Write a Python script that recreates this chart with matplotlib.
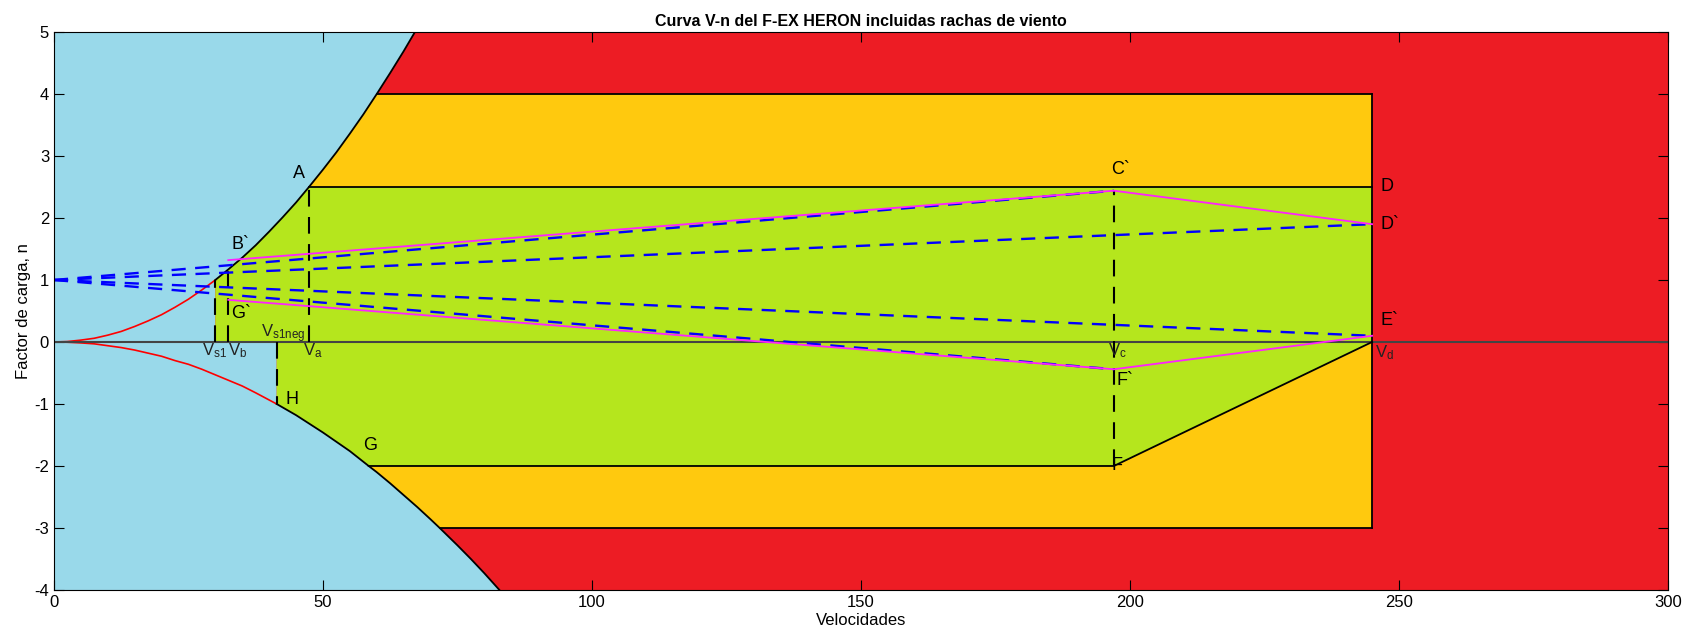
import numpy as np
import matplotlib.pyplot as plt

plt.rcParams['font.family'] = ['Liberation Sans', 'DejaVu Sans']
plt.rcParams['axes.unicode_minus'] = False
plt.rcParams['mathtext.fontset'] = 'custom'
plt.rcParams['mathtext.rm'] = 'Liberation Sans'

# curva de entrada en perdida positiva (V, n)
v_pos = [0, 2.5, 5, 7.5, 10, 12.5, 15, 17.5, 20, 22.5, 25, 27.5, 30, 32.4, 35, 37.5, 40, 42.5,
         45, 47.4, 50, 52.5, 55, 57.5, 60, 62.5, 65, 67.1]
n_pos = [0, 0.007, 0.03, 0.06, 0.11, 0.17, 0.25, 0.34, 0.44, 0.56, 0.69, 0.84, 1.0, 1.17, 1.36,
         1.56, 1.78, 2.01, 2.25, 2.5, 2.78, 3.06, 3.36, 3.67, 4.0, 4.34, 4.69, 5.0]
# curva negativa
v_neg = [0, 2.5, 5, 7.5, 10, 12.5, 15, 17.5, 20, 22.5, 25, 27.5, 30, 32.5, 35, 37.5, 41.4, 45,
         47.5, 50, 52.5, 55, 58.5, 60, 62.5, 65, 67.5, 70, 71.7, 75, 77.5, 80, 82.8]
n_neg = [0, -0.004, -0.015, -0.03, -0.06, -0.09, -0.13, -0.18, -0.23, -0.30, -0.36, -0.44, -0.53,
         -0.62, -0.71, -0.82, -1.0, -1.18, -1.32, -1.46, -1.61, -1.76, -2.0, -2.1, -2.28, -2.47,
         -2.66, -2.86, -3.0, -3.28, -3.5, -3.73, -4.0]

Vs1, Vb, Vs1neg, Va, Vc, Vd = 30, 32.4, 41.4, 47.4, 197, 245
n_max, n_min = 2.5, -2.0
n_ult_pos, n_ult_neg = 4.0, -3.0
V_ult_pos, V_ult_neg = 60, 71.7   # corte de la curva con n=4 y n=-3
VG = 58.5

# rachas
gust_V = [0, Vc, Vd]
gust_up_out = [1, 2.44]
gust_up_in = [1, 1.90]
gust_dn_in = [1, 0.10]
gust_dn_out = [1, -0.44]
env_up_V = [Vb, Vc, Vd]
env_up_n = [1.32, 2.44, 1.90]
env_dn_V = [Vb, Vc, Vd]
env_dn_n = [0.68, -0.44, 0.10]

c_azul = '#99D9EA'
c_rojo = '#ED1C24'
c_nar = '#FFC90E'
c_verde = '#B5E61D'

vp = np.array(v_pos); np_ = np.array(n_pos)
vn = np.array(v_neg); nn = np.array(n_neg)

fig = plt.figure(figsize=(16.96, 6.37), dpi=100)
ax = fig.add_axes([0.0318, 0.0738, 0.9517, 0.876])
ax.set_facecolor(c_rojo)

# zona azul
m1 = vp >= Vs1
m2 = vn >= Vs1neg
bx = [0] + list(vp[m1][::-1]) + [Vs1, Vs1neg] + list(vn[m2]) + [0]
by = [5] + list(np_[m1][::-1]) + [0, 0] + list(nn[m2]) + [-4]
ax.fill(bx, by, color=c_azul, lw=0)

# naranja superior
m = (vp >= Va) & (vp <= V_ult_pos)
ox = list(vp[m]) + [Vd, Vd]
oy = list(np_[m]) + [n_ult_pos, n_max]
ax.fill(ox, oy, color=c_nar, lw=0)

# naranja inferior
m = (vn >= VG) & (vn <= V_ult_neg)
ox = [Vd, Vd] + list(vn[m][::-1]) + [Vc]
oy = [0, n_ult_neg] + list(nn[m][::-1]) + [n_min]
ax.fill(ox, oy, color=c_nar, lw=0)

# verde
m = (vp >= Vs1) & (vp <= Va)
mn = (vn >= Vs1neg) & (vn <= VG)
gx = list(vp[m]) + [Vd, Vd, Vc] + list(vn[mn][::-1]) + [Vs1neg, Vs1]
gy = list(np_[m]) + [n_max, 0, n_min] + list(nn[mn][::-1]) + [0, 0]
ax.fill(gx, gy, color=c_verde, lw=0)

# curvas
ax.plot(vp[vp <= Vs1], np_[vp <= Vs1], color='red', lw=1.2)
ax.plot(vp[vp >= Vs1], np_[vp >= Vs1], color='black', lw=1.3)
ax.plot(vn[vn <= Vs1neg], nn[vn <= Vs1neg], color='red', lw=1.2)
ax.plot(vn[vn >= Vs1neg], nn[vn >= Vs1neg], color='black', lw=1.3)

ax.axhline(0, color='#444444', lw=1.5)
ax.plot([Va, Vd], [n_max, n_max], color='black', lw=1.3)
ax.plot([V_ult_pos, Vd], [n_ult_pos, n_ult_pos], color='black', lw=1.3)
ax.plot([Vd, Vd], [n_ult_neg, n_ult_pos], color='black', lw=1.3)
ax.plot([V_ult_neg, Vd], [n_ult_neg, n_ult_neg], color='black', lw=1.3)
ax.plot([VG, Vc, Vd], [n_min, n_min, 0], color='black', lw=1.3)

dash = dict(color='black', lw=1.5, ls=(0, (8, 5)))
ax.plot([Vs1, Vs1], [0, 1.0], **dash)
ax.plot([Vb, Vb], [0, 1.17], **dash)
ax.plot([Va, Va], [0, n_max], **dash)
ax.plot([Vs1neg, Vs1neg], [0, -1.0], **dash)
ax.plot([Vc, Vc], [n_min, 2.44], **dash)

# rachas
bl = dict(color='blue', lw=1.7, ls=(0, (6, 4)))
ax.plot(gust_V[:2], gust_up_out, **bl)
ax.plot([0, Vd], gust_up_in, **bl)
ax.plot([0, Vd], gust_dn_in, **bl)
ax.plot(gust_V[:2], gust_dn_out, **bl)
ax.plot(env_up_V, env_up_n, color='#FF22FF', lw=1.3)
ax.plot(env_dn_V, env_dn_n, color='#FF22FF', lw=1.3)

fs = 13
etiquetas = [('A', 44.5, 2.72), ('B`', 33.0, 1.58), ('G`', 33.0, 0.46), ('C`', 196.5, 2.78),
             ('D', 246.5, 2.5), ('D`', 246.5, 1.9), ('E`', 246.5, 0.35), ('F`', 197.5, -0.62),
             ('F', 196.5, -2.0), ('G', 57.5, -1.67), ('H', 43.0, -0.92)]
for t, x, y in etiquetas:
    ax.text(x, y, t, fontsize=fs, va='center', ha='left')

sub = dict(fontsize=fs - 1, va='center', color='#222222')
ax.text(27.5, -0.14, '$\\mathregular{V_{s1}}$', **sub)
ax.text(32.3, -0.14, '$\\mathregular{V_b}$', **sub)
ax.text(38.5, 0.14, '$\\mathregular{V_{s1neg}}$', **sub)
ax.text(46.2, -0.14, '$\\mathregular{V_a}$', **sub)
ax.text(196.0, -0.14, '$\\mathregular{V_c}$', **sub)
ax.text(245.5, -0.17, '$\\mathregular{V_d}$', **sub)

ax.set_xlim(0, 300)
ax.set_ylim(-4, 5)
ax.set_xticks(range(0, 301, 50))
ax.set_yticks(range(-4, 6))
ax.tick_params(direction='in', top=True, right=True, length=7, labelsize=12)
ax.set_xlabel('Velocidades', fontsize=12, labelpad=2)
ax.set_ylabel('Factor de carga, n', fontsize=12, labelpad=2)
ax.set_title('Curva V-n del F-EX HERON incluidas rachas de viento', fontsize=11.5, fontweight='bold', pad=4)

plt.savefig('out.png', dpi=100)
